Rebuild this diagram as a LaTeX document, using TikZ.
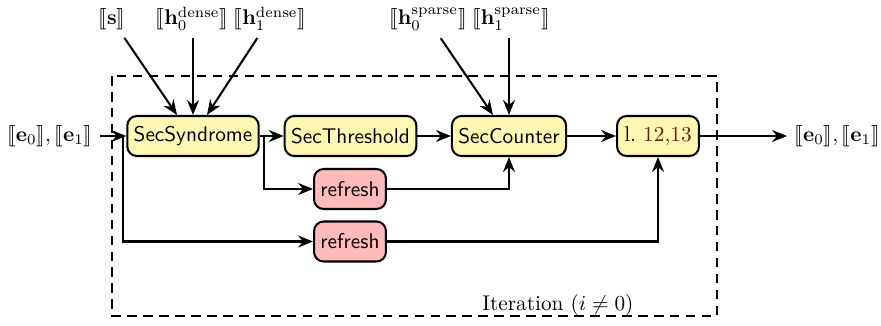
\documentclass[tikz,border=0pt]{standalone}
\usepackage{stmaryrd}
\usetikzlibrary{arrows.meta,calc}
\definecolor{boxyellow}{rgb}{1,0.97,0.70}
\definecolor{boxpink}{rgb}{1,0.73,0.73}
\definecolor{refred}{rgb}{0.44,0.09,0.09}
\begin{document}
\begin{tikzpicture}[x=0.47pt,y=-0.47pt,
  every node/.style={font=\normalsize},
  proc/.style={draw,line width=0.95pt,rounded corners=4.5pt,minimum height=18.8pt,inner xsep=3pt,font=\sffamily},
  ybox/.style={proc,fill=boxyellow},
  pbox/.style={proc,fill=boxpink},
  conn/.style={line width=0.95pt,-{Stealth[length=7pt,width=5.6pt]}},
  lbl/.style={anchor=base,inner xsep=1pt},
  frame/.style={line width=0.95pt,dash pattern=on 4.5pt off 3pt}
]
\useasboundingbox (0,0) rectangle (881,325);
% frame
\draw[frame] (112,76) rectangle (717,316);
\node[anchor=base east] (iter) at (641,310) {Iteration $(i \neq 0)$};

% boxes
\node[ybox,minimum width=61.1pt] (syn) at (193,136) {SecSyndrome};
\node[ybox,minimum width=61.5pt] (thr) at (350.5,136) {SecThreshold};
\node[ybox,minimum width=53.6pt] (cnt) at (509,136) {SecCounter};
\node[ybox,minimum width=38.5pt,font=\rmfamily] (lin) at (658,136) {l.\ \textcolor{refred}{12,13}};
\node[pbox,minimum width=33.8pt] (r1) at (350,189) {refresh};
\node[pbox,minimum width=33.8pt] (r2) at (350,241.5) {refresh};

% labels
\node[anchor=east] (ein) at (100,136) {$\llbracket\mathbf{e}_0\rrbracket, \llbracket\mathbf{e}_1\rrbracket$};
\node[anchor=west] (eout) at (787,136) {$\llbracket\mathbf{e}_0\rrbracket, \llbracket\mathbf{e}_1\rrbracket$};
\node[lbl] (s) at (112,25) {$\llbracket\mathbf{s}\rrbracket$};
\node[lbl] (h0d) at (192,25) {$\llbracket\mathbf{h}_0^{\mathrm{dense}}\rrbracket$};
\node[lbl] (h1d) at (270,25) {$\llbracket\mathbf{h}_1^{\mathrm{dense}}\rrbracket$};
\node[lbl] (h0s) at (428,25) {$\llbracket\mathbf{h}_0^{\mathrm{sparse}}\rrbracket$};
\node[lbl] (h1s) at (511,25) {$\llbracket\mathbf{h}_1^{\mathrm{sparse}}\rrbracket$};

% branch points
\coordinate (b1) at ($(syn.west)+(-3,0)$);
\coordinate (b2) at ($(syn.east)+(4,0)$);

% connectors
\draw[conn] (ein) -- (syn);
\draw[conn] (syn) -- (thr);
\draw[conn] (thr) -- (cnt);
\draw[conn] (cnt) -- (lin);
\draw[conn] (lin) -- (eout);
\draw[conn] (b1) |- (r2);
\draw[conn] (b2) |- (r1);
\draw[conn] (r1) -| (cnt);
\draw[conn] (r2) -| (lin);
\draw[conn] (s) -- ($(syn.north)+(-16,0)$);
\draw[conn] (h0d.south -| syn.north) -- (syn.north);
\draw[conn] (h1d) -- ($(syn.north)+(14,0)$);
\draw[conn] (h0s) -- ($(cnt.north)+(-16,0)$);
\draw[conn] (h1s.south -| cnt.north) -- (cnt.north);
\end{tikzpicture}
\end{document}
